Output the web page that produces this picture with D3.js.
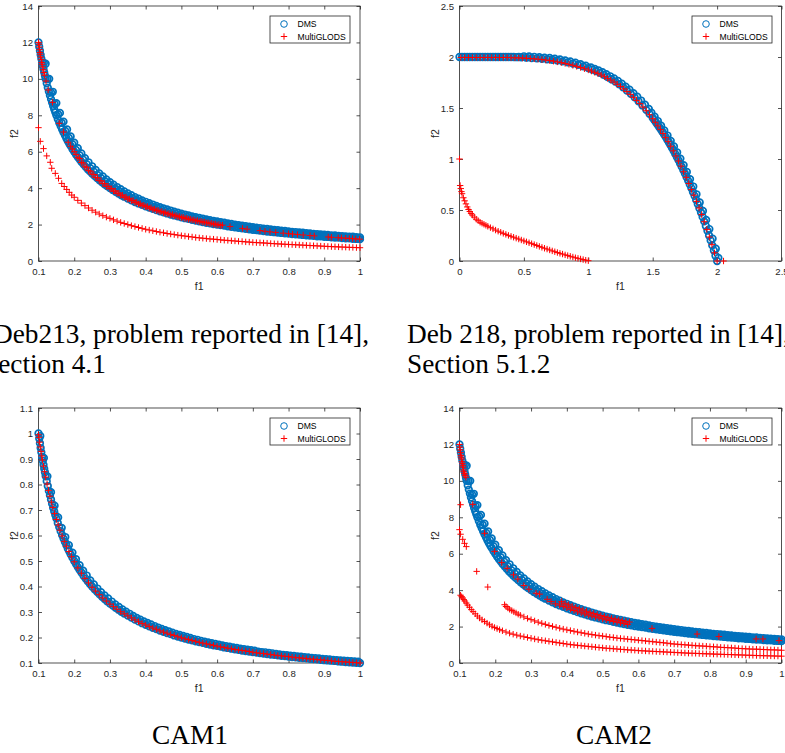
<!DOCTYPE html>
<html><head><meta charset="utf-8">
<script src="https://cdn.jsdelivr.net/npm/d3@7"></script>
<style>body{margin:0;background:#fff;overflow:hidden}svg{display:block}</style>
</head><body>
<svg id="chart" width="785" height="753"></svg>
<script>
// ---------------- DATA ----------------
const seriesNames = ["DMS", "MultiGLODS"];

// Tick values
const hypXTicks = [0.1,0.2,0.3,0.4,0.5,0.6,0.7,0.8,0.9,1];
const deb213YTicks = [0,2,4,6,8,10,12,14];
const deb218Ticks = [0,0.5,1,1.5,2,2.5];
const cam1YTicks = [0.1,0.2,0.3,0.4,0.5,0.6,0.7,0.8,0.9,1,1.1];

// DMS band (Deb213 and CAM2): inner edge, middle and outer edge of the band of circles
const dmsBandInner = [[0.100,12.0],[0.102,11.76],[0.104,11.54],[0.106,11.32],[0.108,11.11],[0.110,10.91],[0.112,10.71],[0.114,10.53],[0.116,10.35],[0.118,10.17],[0.120,10.0],[0.123,9.76],[0.126,9.52],[0.129,9.30],[0.132,9.09],[0.135,8.89],[0.138,8.70],[0.141,8.51],[0.144,8.33],[0.147,8.16],[0.150,8.0],[0.154,7.79],[0.158,7.59],[0.162,7.41],[0.166,7.23],[0.170,7.06],[0.174,6.90],[0.178,6.74],[0.182,6.59],[0.186,6.45],[0.190,6.32],[0.195,6.15],[0.200,6.0],[0.205,5.85],[0.210,5.71],[0.215,5.58],[0.220,5.45],[0.226,5.31],[0.232,5.17],[0.238,5.04],[0.244,4.92],[0.250,4.8],[0.257,4.67],[0.264,4.55],[0.271,4.43],[0.278,4.32],[0.285,4.21],[0.292,4.11],[0.300,4.0],[0.308,3.90],[0.316,3.80],[0.324,3.70],[0.332,3.61],[0.340,3.53],[0.350,3.43],[0.36,3.33],[0.37,3.24],[0.38,3.16],[0.39,3.08],[0.40,3.0],[0.41,2.93],[0.42,2.86],[0.43,2.79],[0.44,2.73],[0.45,2.67],[0.46,2.61],[0.47,2.55],[0.48,2.5],[0.49,2.45],[0.50,2.4],[0.51,2.35],[0.52,2.31],[0.53,2.26],[0.54,2.22],[0.55,2.18],[0.56,2.14],[0.57,2.10],[0.58,2.07],[0.59,2.03],[0.60,2.0],[0.61,1.97],[0.62,1.94],[0.63,1.90],[0.64,1.875],[0.65,1.85],[0.66,1.82],[0.67,1.79],[0.68,1.77],[0.69,1.74],[0.70,1.71],[0.71,1.69],[0.72,1.67],[0.73,1.64],[0.74,1.62],[0.75,1.6],[0.76,1.58],[0.77,1.56],[0.78,1.54],[0.79,1.52],[0.80,1.5],[0.81,1.48],[0.82,1.46],[0.83,1.45],[0.84,1.43],[0.85,1.41],[0.86,1.40],[0.87,1.38],[0.88,1.36],[0.89,1.35],[0.90,1.33],[0.91,1.32],[0.92,1.30],[0.93,1.29],[0.94,1.28],[0.95,1.26],[0.96,1.25],[0.97,1.24],[0.98,1.22],[0.99,1.21],[1.00,1.2]];
const dmsBandMiddle = [[0.115,10.87],[0.125,10.0],[0.135,9.26],[0.145,8.62],[0.155,8.06],[0.165,7.58],[0.175,7.14],[0.185,6.76],[0.195,6.41],[0.205,6.10],[0.215,5.81],[0.225,5.56],[0.235,5.32],[0.245,5.10],[0.255,4.90],[0.265,4.72],[0.275,4.55],[0.285,4.39],[0.295,4.24],[0.305,4.10],[0.315,3.97],[0.325,3.85],[0.335,3.73],[0.345,3.62],[0.355,3.52],[0.365,3.42],[0.375,3.33],[0.385,3.25],[0.395,3.16],[0.405,3.09],[0.415,3.01],[0.425,2.94],[0.435,2.87],[0.445,2.81],[0.455,2.75],[0.465,2.69],[0.475,2.63],[0.485,2.58],[0.495,2.53],[0.505,2.48],[0.515,2.43],[0.525,2.38],[0.535,2.34],[0.545,2.29],[0.555,2.25],[0.565,2.21],[0.575,2.17],[0.585,2.14],[0.595,2.10],[0.605,2.07],[0.615,2.03],[0.625,2.0],[0.635,1.97],[0.645,1.94],[0.655,1.91],[0.665,1.88],[0.675,1.85],[0.685,1.82],[0.695,1.80],[0.705,1.77],[0.715,1.75],[0.725,1.72],[0.735,1.70],[0.745,1.68],[0.755,1.66],[0.765,1.63],[0.775,1.61],[0.785,1.59],[0.795,1.57],[0.805,1.55],[0.815,1.53],[0.825,1.52],[0.835,1.50],[0.845,1.48],[0.855,1.46],[0.865,1.45],[0.875,1.43],[0.885,1.41],[0.895,1.40],[0.905,1.38],[0.915,1.37],[0.925,1.35],[0.935,1.34],[0.945,1.32],[0.955,1.31],[0.965,1.30],[0.975,1.28],[0.985,1.27],[0.995,1.26]];
const dmsBandOuter = [[0.12,10.83],[0.13,10.0],[0.14,9.29],[0.15,8.67],[0.16,8.13],[0.17,7.65],[0.18,7.22],[0.19,6.84],[0.20,6.5],[0.21,6.19],[0.22,5.91],[0.23,5.65],[0.24,5.42],[0.25,5.2],[0.26,5.0],[0.27,4.81],[0.28,4.64],[0.29,4.48],[0.30,4.33],[0.31,4.19],[0.32,4.06],[0.33,3.94],[0.34,3.82],[0.35,3.71],[0.36,3.61],[0.37,3.51],[0.38,3.42],[0.39,3.33],[0.40,3.25],[0.41,3.17],[0.42,3.10],[0.43,3.02],[0.44,2.95],[0.45,2.89],[0.46,2.83],[0.47,2.77],[0.48,2.71],[0.49,2.65],[0.50,2.6],[0.51,2.55],[0.52,2.5],[0.53,2.45],[0.54,2.41],[0.55,2.36],[0.56,2.32],[0.57,2.28],[0.58,2.24],[0.59,2.20],[0.60,2.17],[0.61,2.13],[0.62,2.10],[0.63,2.06],[0.64,2.03],[0.65,2.0],[0.66,1.97],[0.67,1.94],[0.68,1.91],[0.69,1.88],[0.70,1.86],[0.71,1.83],[0.72,1.81],[0.73,1.78],[0.74,1.76],[0.75,1.73],[0.76,1.71],[0.77,1.69],[0.78,1.67],[0.79,1.65],[0.80,1.625],[0.81,1.60],[0.82,1.59],[0.83,1.57],[0.84,1.55],[0.85,1.53],[0.86,1.51],[0.87,1.49],[0.88,1.48],[0.89,1.46],[0.90,1.44],[0.91,1.43],[0.92,1.41],[0.93,1.40],[0.94,1.38],[0.95,1.37],[0.96,1.35],[0.97,1.34],[0.98,1.33],[0.99,1.31],[1.00,1.30]];

// Deb213 MultiGLODS
const deb213MGFront = [[0.100,12.0],[0.101,11.9],[0.102,11.75],[0.103,11.6],[0.104,11.45],[0.105,11.35],[0.106,11.2],[0.108,11.05],[0.109,10.9],[0.110,10.8],[0.112,10.65],[0.113,10.5],[0.115,10.35],[0.117,10.2],[0.121,9.88],[0.127,9.39],[0.139,8.71],[0.158,7.56],[0.170,7.08],[0.183,6.52],[0.190,6.3],[0.195,6.15],[0.200,6.0],[0.205,5.85],
[0.21,5.67],[0.215,5.63],[0.22,5.41],[0.225,5.38],[0.23,5.17],[0.235,5.15],[0.24,4.96],[0.245,4.94],[0.25,4.76],[0.255,4.75],[0.26,4.58],[0.265,4.57],[0.27,4.41],[0.275,4.40],[0.28,4.25],[0.285,4.25],[0.29,4.10],[0.295,4.10],[0.30,3.97],[0.305,3.97],[0.31,3.84],[0.315,3.84],[0.32,3.72],[0.325,3.72],[0.33,3.61],[0.335,3.61],[0.34,3.5],[0.345,3.51],[0.35,3.4],[0.355,3.41],[0.36,3.31],[0.365,3.32],[0.37,3.22],[0.375,3.23],[0.38,3.13],[0.385,3.14],[0.39,3.05],[0.395,3.06],[0.40,2.98],[0.405,2.99],[0.41,2.90],[0.415,2.92],[0.42,2.83],[0.425,2.85],[0.43,2.77],[0.435,2.78],[0.44,2.70],[0.445,2.72],[0.45,2.64],[0.455,2.66],[0.46,2.59],[0.465,2.60],[0.47,2.53],[0.475,2.55],[0.48,2.48],[0.485,2.49],[0.49,2.43],[0.495,2.44],[0.50,2.38],[0.505,2.40],[0.51,2.33],[0.515,2.35],[0.52,2.29],[0.525,2.30],[0.53,2.25],[0.535,2.26],[0.54,2.20],[0.545,2.22],[0.55,2.16],[0.555,2.18],[0.56,2.13],[0.565,2.14],[0.57,2.09],[0.575,2.10],[0.58,2.05],[0.585,2.07],[0.59,2.02],[0.595,2.03],[0.60,1.98],[0.605,2.0],[0.61,1.95],[0.615,1.97],
[0.636,1.89],[0.671,1.79],[0.684,1.75],[0.72,1.67],[0.734,1.63],[0.748,1.60],[0.764,1.57],[0.785,1.53],[0.80,1.5],[0.811,1.48],[0.825,1.45],[0.841,1.43],[0.86,1.40],[0.872,1.38],[0.911,1.32],[0.92,1.30],[0.939,1.28],[0.948,1.27],[0.96,1.25],[0.97,1.24],[0.979,1.23],[0.988,1.21],[0.999,1.2]];
const deb213MGLower = [[0.100,7.32],[0.105,6.57],[0.114,6.17],[0.123,5.77],[0.133,5.42],[0.137,5.09],[0.147,4.81],[0.156,4.54],[0.165,4.26],[0.172,4.09],[0.179,3.93],[0.186,3.77],[0.193,3.62],[0.20,3.50],[0.21,3.33],[0.22,3.18],[0.23,3.04],[0.24,2.91],[0.25,2.79],[0.26,2.68],[0.27,2.58],[0.28,2.49],[0.29,2.41],[0.30,2.34],[0.31,2.26],[0.32,2.19],[0.33,2.12],[0.34,2.06],[0.35,2.00],[0.36,1.94],[0.37,1.89],[0.38,1.84],[0.39,1.79],[0.40,1.74],[0.41,1.70],[0.42,1.66],[0.43,1.62],[0.44,1.58],[0.45,1.55],[0.46,1.51],[0.47,1.48],[0.48,1.45],[0.49,1.42],[0.50,1.39],[0.51,1.37],[0.52,1.34],[0.53,1.32],[0.54,1.29],[0.55,1.27],[0.56,1.25],[0.57,1.23],[0.58,1.21],[0.59,1.20],[0.60,1.18],[0.61,1.16],[0.62,1.14],[0.63,1.13],[0.64,1.11],[0.65,1.10],[0.66,1.08],[0.67,1.07],[0.68,1.05],[0.69,1.04],[0.70,1.02],[0.71,1.01],[0.72,1.00],[0.73,0.99],[0.74,0.98],[0.75,0.96],[0.76,0.95],[0.77,0.94],[0.78,0.93],[0.79,0.92],[0.80,0.91],[0.81,0.90],[0.82,0.89],[0.83,0.88],[0.84,0.87],[0.85,0.86],[0.86,0.85],[0.87,0.84],[0.88,0.83],[0.89,0.82],[0.90,0.81],[0.91,0.80],[0.92,0.79],[0.93,0.78],[0.94,0.775],[0.95,0.765],[0.96,0.76],[0.97,0.75],[0.98,0.745],[0.99,0.735],[1.00,0.73]];

// Deb 218
const deb218DMS = [[0.00,2.0],[0.04,2.0],[0.08,2.0],[0.12,2.0],[0.16,2.0],[0.20,2.0],[0.24,2.0],[0.28,2.0],[0.32,2.0],[0.36,2.0],[0.40,2.0],[0.44,1.998],[0.48,1.996],[0.52,1.993],[0.56,1.990],[0.60,1.987],[0.64,1.983],[0.68,1.978],[0.72,1.973],[0.76,1.966],[0.80,1.957],[0.84,1.948],[0.88,1.936],[0.92,1.923],[0.96,1.908],[1.00,1.891],[1.03,1.877],[1.06,1.861],[1.09,1.844],[1.12,1.825],[1.15,1.804],[1.18,1.782],[1.21,1.758],[1.24,1.731],[1.27,1.703],[1.30,1.672],[1.33,1.640],[1.36,1.604],[1.39,1.566],[1.42,1.525],[1.45,1.482],[1.475,1.443],[1.50,1.403],[1.5125,1.382],[1.525,1.360],[1.5375,1.337],[1.55,1.314],[1.5625,1.291],[1.575,1.267],[1.5875,1.242],[1.60,1.217],[1.6125,1.191],[1.625,1.164],[1.6375,1.137],[1.65,1.109],[1.6625,1.080],[1.675,1.050],[1.6875,1.020],[1.70,0.989],[1.7125,0.957],[1.725,0.925],[1.7375,0.892],[1.75,0.859],[1.7625,0.824],[1.775,0.788],[1.7875,0.752],[1.80,0.715],[1.8125,0.677],[1.825,0.639],[1.8375,0.599],[1.85,0.558],[1.8625,0.517],[1.875,0.475],[1.8875,0.432],[1.90,0.388],[1.9125,0.343],[1.925,0.297],[1.9375,0.250],[1.95,0.202],[1.9625,0.153],[1.975,0.103],[1.9875,0.052],[2.00,0.0]];
const deb218DMSOuter = [[0.02,2.0],[0.06,2.0],[0.10,2.0],[0.14,2.0],[0.18,2.0],[0.22,2.0],[0.26,2.0],[0.30,2.0],[0.34,2.0],[0.38,2.0],[0.42,2.0],[0.46,2.0],[0.50,2.007],[0.54,2.005],[0.58,2.002],[0.62,1.998],[0.66,1.994],[0.70,1.99],[0.74,1.984],[0.78,1.976],[0.82,1.967],[0.86,1.957],[0.90,1.945],[0.94,1.93],[0.98,1.915],[1.02,1.898],[1.05,1.884],[1.08,1.868],[1.11,1.851],[1.14,1.832],[1.17,1.811],[1.20,1.789],[1.23,1.765],[1.26,1.738],[1.29,1.710],[1.32,1.679],[1.35,1.646],[1.38,1.611],[1.41,1.573],[1.44,1.532],[1.47,1.49],[1.49,1.455],[1.515,1.415],[1.54,1.372],[1.565,1.327],[1.59,1.28],[1.615,1.23],[1.64,1.178],[1.665,1.123],[1.69,1.065],[1.715,1.004],[1.74,0.94],[1.765,0.873],[1.79,0.803],[1.815,0.73],[1.84,0.654],[1.865,0.574],[1.89,0.49],[1.915,0.403],[1.94,0.313],[1.965,0.219],[1.99,0.12],[2.01,0.03]];
const deb218MGFront = [[0.01,1.995],[0.04,1.995],[0.07,1.995],[0.10,1.995],[0.13,1.995],[0.16,1.995],[0.19,1.995],[0.22,1.995],[0.25,1.995],[0.28,1.995],[0.31,1.995],[0.34,1.995],[0.37,1.995],[0.40,1.993],[0.43,1.992],[0.46,1.991],[0.49,1.99],[0.52,1.988],[0.55,1.985],[0.58,1.982],[0.61,1.979],[0.64,1.975],[0.67,1.97],[0.70,1.965],[0.73,1.959],[0.76,1.952],[0.79,1.945],[0.82,1.937],[0.85,1.928],[0.88,1.918],[0.91,1.908],[0.94,1.897],[0.97,1.885],[1.00,1.873],[1.025,1.862],[1.05,1.85],[1.075,1.837],[1.10,1.823],[1.125,1.807],[1.15,1.79],[1.175,1.773],[1.20,1.754],[1.225,1.733],[1.25,1.711],[1.275,1.687],[1.30,1.661],[1.325,1.634],[1.35,1.605],[1.375,1.575],[1.40,1.543],[1.425,1.509],[1.45,1.473],[1.475,1.434],[1.50,1.395],[1.52,1.36],[1.54,1.325],[1.56,1.288],[1.58,1.25],[1.60,1.21],[1.62,1.17],[1.64,1.125],[1.66,1.08],[1.68,1.03],[1.70,0.98],[1.72,0.93],[1.74,0.875],[1.76,0.82],[1.78,0.76],[1.80,0.70],[1.82,0.645],[1.84,0.585],[1.86,0.52],[1.88,0.455],[1.90,0.385],[1.92,0.31],[1.94,0.235],[1.96,0.16],[1.98,0.08],[2.00,0.0],[2.05,0.0]];
const deb218MGLower = [[0.0,1.0],[0.005,0.74],[0.01,0.71],[0.015,0.68],[0.02,0.66],[0.03,0.62],[0.04,0.59],[0.05,0.56],[0.06,0.53],[0.07,0.505],[0.08,0.485],[0.09,0.465],[0.10,0.45],[0.115,0.43],[0.13,0.41],[0.145,0.395],[0.16,0.38],[0.175,0.37],[0.19,0.36],[0.205,0.35],[0.22,0.34],[0.24,0.327],[0.26,0.315],[0.28,0.303],[0.30,0.292],[0.32,0.282],[0.34,0.271],[0.36,0.261],[0.38,0.251],[0.40,0.242],[0.42,0.233],[0.44,0.224],[0.46,0.215],[0.48,0.206],[0.50,0.197],[0.52,0.188],[0.54,0.179],[0.56,0.170],[0.58,0.161],[0.60,0.152],[0.62,0.143],[0.64,0.134],[0.66,0.125],[0.68,0.117],[0.70,0.108],[0.72,0.099],[0.74,0.091],[0.76,0.083],[0.78,0.075],[0.80,0.068],[0.82,0.060],[0.84,0.053],[0.86,0.046],[0.88,0.039],[0.90,0.032],[0.92,0.026],[0.94,0.02],[0.96,0.014],[0.98,0.008],[1.0,0.003]];

// CAM1
const cam1DMS = [[0.100,1.0],[0.102,0.980],[0.104,0.962],[0.106,0.943],[0.108,0.926],[0.110,0.909],[0.112,0.893],[0.114,0.877],[0.116,0.862],[0.118,0.848],[0.120,0.833],[0.123,0.813],[0.126,0.794],[0.129,0.775],[0.132,0.758],[0.135,0.741],[0.138,0.725],[0.141,0.709],[0.144,0.694],[0.147,0.680],[0.150,0.667],[0.154,0.649],[0.158,0.633],[0.162,0.617],[0.166,0.602],[0.170,0.588],[0.174,0.575],[0.178,0.562],[0.182,0.549],[0.186,0.538],[0.190,0.526],[0.195,0.513],[0.200,0.5],[0.205,0.488],[0.210,0.476],[0.215,0.465],[0.220,0.455],[0.226,0.442],[0.232,0.431],[0.238,0.420],[0.244,0.410],[0.250,0.4],[0.257,0.389],[0.264,0.379],[0.271,0.369],[0.278,0.360],[0.285,0.351],[0.292,0.342],[0.300,0.333],[0.308,0.325],[0.316,0.316],[0.324,0.309],[0.332,0.301],[0.340,0.294],[0.350,0.286],[0.36,0.278],[0.37,0.270],[0.38,0.263],[0.39,0.256],[0.40,0.25],[0.41,0.244],[0.42,0.238],[0.43,0.233],[0.44,0.227],[0.45,0.222],[0.46,0.217],[0.47,0.213],[0.48,0.208],[0.49,0.204],[0.50,0.2],[0.51,0.196],[0.52,0.192],[0.53,0.189],[0.54,0.185],[0.55,0.182],[0.56,0.179],[0.57,0.175],[0.58,0.172],[0.59,0.169],[0.60,0.167],[0.61,0.164],[0.62,0.161],[0.63,0.159],[0.64,0.156],[0.65,0.154],[0.66,0.152],[0.67,0.149],[0.68,0.147],[0.69,0.145],[0.70,0.143],[0.71,0.141],[0.72,0.139],[0.73,0.137],[0.74,0.135],[0.75,0.133],[0.76,0.132],[0.77,0.130],[0.78,0.128],[0.79,0.127],[0.80,0.125],[0.81,0.123],[0.82,0.122],[0.83,0.120],[0.84,0.119],[0.85,0.118],[0.86,0.116],[0.87,0.115],[0.88,0.114],[0.89,0.112],[0.90,0.111],[0.91,0.110],[0.92,0.109],[0.93,0.108],[0.94,0.106],[0.95,0.105],[0.96,0.104],[0.97,0.103],[0.98,0.102],[0.99,0.101],[1.00,0.1]];
const cam1DMSOuter = [[0.105,0.990],[0.115,0.904],[0.125,0.832],[0.135,0.770],[0.145,0.717],[0.155,0.671],[0.165,0.630],[0.175,0.594],[0.185,0.562],[0.195,0.533],[0.205,0.507],[0.215,0.484],[0.225,0.462],[0.235,0.443],[0.245,0.424],[0.255,0.408],[0.265,0.392],[0.275,0.378],[0.285,0.365],[0.295,0.353],[0.305,0.341],[0.315,0.330],[0.325,0.32],[0.335,0.310],[0.345,0.301],[0.355,0.293],[0.365,0.285],[0.375,0.277],[0.385,0.270],[0.395,0.263],[0.405,0.257],[0.415,0.251],[0.425,0.245],[0.435,0.239],[0.445,0.234],[0.455,0.229],[0.465,0.224],[0.475,0.219],[0.485,0.214],[0.495,0.210],[0.505,0.206],[0.515,0.202],[0.525,0.198],[0.535,0.194],[0.545,0.191],[0.555,0.187],[0.565,0.184],[0.575,0.181],[0.585,0.178],[0.595,0.175],[0.605,0.172],[0.615,0.169],[0.625,0.166],[0.635,0.164],[0.645,0.161],[0.655,0.159],[0.665,0.156],[0.675,0.154],[0.685,0.152],[0.695,0.150],[0.705,0.148],[0.715,0.145],[0.725,0.143],[0.735,0.142],[0.745,0.140],[0.755,0.138],[0.765,0.136],[0.775,0.134],[0.785,0.132],[0.795,0.131],[0.805,0.129],[0.815,0.128],[0.825,0.126],[0.835,0.125],[0.845,0.123],[0.855,0.122],[0.865,0.120],[0.875,0.119],[0.885,0.118],[0.895,0.116],[0.905,0.115],[0.915,0.114],[0.925,0.112],[0.935,0.111],[0.945,0.110],[0.955,0.109],[0.965,0.108],[0.975,0.107],[0.985,0.106],[0.995,0.105]];
const cam1MG = [[0.100,0.995],[0.101,0.985],[0.103,0.966],[0.105,0.947],[0.107,0.930],[0.109,0.912],[0.111,0.896],[0.114,0.872],[0.117,0.850],[0.120,0.829],[0.124,0.802],[0.128,0.777],[0.132,0.754],[0.136,0.731],[0.140,0.710],[0.145,0.686],[0.150,0.663],[0.155,0.641],[0.160,0.621],[0.166,0.598],[0.172,0.577],[0.178,0.558],[0.185,0.537],[0.192,0.517],[0.20,0.497],[0.21,0.473],[0.22,0.452],[0.23,0.432],[0.24,0.414],[0.25,0.397],[0.26,0.382],[0.27,0.368],[0.28,0.355],[0.29,0.343],[0.30,0.331],[0.31,0.321],[0.32,0.311],[0.33,0.301],[0.34,0.293],[0.35,0.285],[0.36,0.277],[0.37,0.269],[0.38,0.262],[0.39,0.255],[0.40,0.249],[0.41,0.243],[0.42,0.237],[0.43,0.232],[0.44,0.226],[0.45,0.221],[0.46,0.217],[0.47,0.212],[0.48,0.208],[0.49,0.203],[0.50,0.199],[0.51,0.195],[0.52,0.192],[0.53,0.188],[0.54,0.185],[0.55,0.181],[0.56,0.178],[0.57,0.175],[0.58,0.172],[0.59,0.169],[0.60,0.166],[0.61,0.163],[0.62,0.161],[0.63,0.158],[0.64,0.156],[0.65,0.153],[0.66,0.151],[0.67,0.149],[0.68,0.147],[0.69,0.145],[0.70,0.142],[0.71,0.140],[0.72,0.138],[0.73,0.137],[0.74,0.135],[0.75,0.133],[0.76,0.131],[0.77,0.129],[0.78,0.128],[0.79,0.126],[0.80,0.125],[0.81,0.123],[0.82,0.121],[0.83,0.120],[0.84,0.119],[0.85,0.117],[0.86,0.116],[0.87,0.115],[0.88,0.113],[0.89,0.112],[0.90,0.111],[0.91,0.110],[0.92,0.108],[0.93,0.107],[0.94,0.106],[0.95,0.105],[0.96,0.104],[0.97,0.103],[0.98,0.102],[0.99,0.101],[1.00,0.1]];

// CAM2 MultiGLODS
const cam2MGFront = [[0.100,12.0],[0.101,11.85],[0.102,11.7],[0.103,11.55],[0.104,11.4],[0.105,11.3],[0.106,11.2],[0.107,11.05],[0.108,10.95],[0.109,10.85],[0.110,10.75],[0.111,10.6],[0.112,10.5],[0.114,10.4],[0.116,10.3],[0.118,10.2],
[0.137,8.71],[0.170,7.12],[0.198,6.13],[0.218,5.51],[0.233,5.2],[0.251,4.84],[0.263,4.61],[0.280,4.25],[0.294,4.05],[0.314,3.83],[0.324,3.78],[0.345,3.5],[0.356,3.37],[0.368,3.25],
[0.38,3.18],[0.385,3.37],[0.39,3.10],[0.395,3.28],[0.40,3.03],[0.405,3.2],[0.41,2.95],[0.415,3.12],[0.42,2.88],[0.425,3.05],[0.43,2.81],[0.435,2.98],[0.44,2.75],[0.445,2.91],[0.45,2.69],[0.455,2.84],[0.46,2.63],[0.465,2.78],[0.47,2.57],[0.475,2.72],[0.48,2.52],[0.485,2.67],[0.49,2.47],[0.495,2.61],[0.50,2.42],[0.505,2.56],[0.51,2.37],[0.515,2.51],[0.52,2.33],[0.525,2.46],[0.53,2.28],[0.535,2.42],[0.54,2.24],[0.545,2.37],[0.55,2.20],[0.555,2.33],[0.56,2.16],[0.565,2.29],[0.57,2.12],[0.575,2.25],
[0.638,1.90],[0.764,1.59],[0.825,1.45],[0.929,1.32],[0.948,1.32],[0.993,1.23]];
const cam2MGScatter = [[0.103,8.69],[0.100,7.32],[0.103,7.07],[0.109,6.79],[0.114,6.57],[0.119,6.39],[0.148,5.03],[0.179,4.17]];
const cam2MGMiddle = [[0.226,3.20],[0.230,3.10],[0.235,3.02],[0.240,2.95],[0.246,2.88],[0.252,2.81],[0.258,2.75],[0.264,2.68],[0.27,2.62],[0.28,2.53],[0.29,2.45],[0.30,2.38],[0.31,2.31],[0.32,2.24],[0.33,2.18],[0.34,2.12],[0.35,2.06],[0.36,2.01],[0.37,1.96],[0.38,1.91],[0.39,1.86],[0.40,1.82],[0.41,1.78],[0.42,1.74],[0.43,1.70],[0.44,1.66],[0.45,1.63],[0.46,1.59],[0.47,1.56],[0.48,1.53],[0.49,1.50],[0.50,1.48],[0.51,1.45],[0.52,1.42],[0.53,1.40],[0.54,1.37],[0.55,1.35],[0.56,1.33],[0.57,1.31],[0.58,1.29],[0.59,1.27],[0.60,1.25],[0.61,1.23],[0.62,1.21],[0.63,1.19],[0.64,1.17],[0.65,1.15],[0.66,1.13],[0.67,1.11],[0.68,1.09],[0.69,1.06],[0.70,1.04],[0.71,1.03],[0.72,1.01],[0.73,1.00],[0.74,0.98],[0.75,0.97],[0.76,0.95],[0.77,0.94],[0.78,0.93],[0.79,0.92],[0.80,0.90],[0.81,0.89],[0.82,0.88],[0.83,0.86],[0.84,0.85],[0.85,0.84],[0.86,0.83],[0.87,0.82],[0.88,0.80],[0.89,0.79],[0.90,0.78],[0.91,0.77],[0.92,0.76],[0.93,0.76],[0.94,0.75],[0.95,0.74],[0.96,0.73],[0.97,0.72],[0.98,0.72],[0.99,0.71],[1.00,0.70]];
const cam2MGLower = [[0.103,3.72],[0.106,3.64],[0.109,3.57],[0.112,3.48],[0.115,3.40],[0.119,3.29],[0.123,3.18],[0.128,3.06],[0.133,2.93],[0.138,2.82],[0.144,2.70],[0.150,2.58],[0.156,2.47],[0.163,2.37],[0.170,2.28],[0.177,2.19],[0.184,2.10],[0.191,2.02],[0.198,1.95],[0.205,1.89],[0.212,1.83],[0.22,1.77],[0.23,1.70],[0.24,1.64],[0.25,1.58],[0.26,1.53],[0.27,1.48],[0.28,1.44],[0.29,1.40],[0.30,1.36],[0.31,1.32],[0.32,1.28],[0.33,1.25],[0.34,1.22],[0.35,1.19],[0.36,1.16],[0.37,1.13],[0.38,1.10],[0.39,1.07],[0.40,1.04],[0.41,1.01],[0.42,0.99],[0.43,0.97],[0.44,0.95],[0.45,0.93],[0.46,0.91],[0.47,0.89],[0.48,0.87],[0.49,0.85],[0.50,0.83],[0.51,0.81],[0.52,0.80],[0.53,0.78],[0.54,0.77],[0.55,0.75],[0.56,0.74],[0.57,0.72],[0.58,0.71],[0.59,0.70],[0.60,0.68],[0.61,0.67],[0.62,0.66],[0.63,0.65],[0.64,0.64],[0.65,0.63],[0.66,0.62],[0.67,0.61],[0.68,0.60],[0.69,0.59],[0.70,0.58],[0.71,0.57],[0.72,0.56],[0.73,0.55],[0.74,0.54],[0.75,0.535],[0.76,0.53],[0.77,0.52],[0.78,0.51],[0.79,0.505],[0.80,0.50],[0.81,0.49],[0.82,0.485],[0.83,0.48],[0.84,0.47],[0.85,0.465],[0.86,0.46],[0.87,0.45],[0.88,0.445],[0.89,0.44],[0.90,0.43],[0.91,0.425],[0.92,0.42],[0.93,0.41],[0.94,0.405],[0.95,0.40],[0.96,0.395],[0.97,0.39],[0.98,0.385],[0.99,0.38],[1.00,0.375]];

// Captions
const captions = [
  {lines:["Deb213, problem reported in [14],", "Section 4.1"], x:[-7,-17], y:[343,373]},
  {lines:["Deb 218, problem reported in [14],", "Section 5.1.2"], x:[407,407], y:[343,373]},
  {lines:["CAM1"], x:[190], y:[744], center:true},
  {lines:["CAM2"], x:[614], y:[744], center:true}
];

// ---------------- LAYOUT ----------------
const AX = "#262626", BLUE = "#0072BD", RED = "#FF0000";
const svg = d3.select("#chart");

const panels = [
  {xd:[0.1,1], yd:[0,14], xr:[38.5,360], yr:[261,6], xt:hypXTicks, yt:deb213YTicks,
   dms:[dmsBandInner, dmsBandMiddle, dmsBandOuter], mg:[deb213MGFront, deb213MGLower], leg:[270,16,80,27]},
  {xd:[0,2.5], yd:[0,2.5], xr:[459.5,781.5], yr:[261,6], xt:deb218Ticks, yt:deb218Ticks,
   dms:[deb218DMS, deb218DMSOuter], mg:[deb218MGFront, deb218MGLower], leg:[692,16,80,27]},
  {xd:[0.1,1], yd:[0.1,1.1], xr:[38.5,360], yr:[663,408], xt:hypXTicks, yt:cam1YTicks,
   dms:[cam1DMS, cam1DMSOuter], mg:[cam1MG], leg:[270,418,80,27]},
  {xd:[0.1,1], yd:[0,14], xr:[459.5,781.5], yr:[663,408], xt:hypXTicks, yt:deb213YTicks,
   dms:[dmsBandInner, dmsBandMiddle, dmsBandOuter], mg:[cam2MGFront, cam2MGScatter, cam2MGMiddle, cam2MGLower], leg:[692,418,80,27]}
];

const plusPath = "M-3.2,0H3.2M0,-3.2V3.2";

function styleAxis(g){
  g.select(".domain").remove();
  g.selectAll(".tick line").attr("stroke", AX).attr("stroke-width", 0.8);
  g.selectAll(".tick text").attr("fill", AX).attr("font-family", "Liberation Sans, Arial, sans-serif").attr("font-size", 9.6);
}

panels.forEach(p => {
  const g = svg.append("g");
  const x = d3.scaleLinear().domain(p.xd).range(p.xr);
  const y = d3.scaleLinear().domain(p.yd).range(p.yr);
  const fmt = d => String(d);
  const tk = -3.5;
  g.append("g").attr("transform", `translate(0,${p.yr[0]})`)
    .call(d3.axisBottom(x).tickValues(p.xt).tickFormat(fmt).tickSizeInner(tk).tickSizeOuter(0).tickPadding(7)).call(styleAxis);
  g.append("g").attr("transform", `translate(0,${p.yr[1]})`)
    .call(d3.axisTop(x).tickValues(p.xt).tickFormat("").tickSizeInner(tk).tickSizeOuter(0)).call(styleAxis);
  g.append("g").attr("transform", `translate(${p.xr[0]},0)`)
    .call(d3.axisLeft(y).tickValues(p.yt).tickFormat(fmt).tickSizeInner(tk).tickSizeOuter(0).tickPadding(5.5)).call(styleAxis);
  g.append("g").attr("transform", `translate(${p.xr[1]},0)`)
    .call(d3.axisRight(y).tickValues(p.yt).tickFormat("").tickSizeInner(tk).tickSizeOuter(0)).call(styleAxis);
  g.append("rect").attr("x", p.xr[0]).attr("y", p.yr[1])
    .attr("width", p.xr[1]-p.xr[0]).attr("height", p.yr[0]-p.yr[1])
    .attr("fill", "none").attr("stroke", AX).attr("stroke-width", 0.8);

  // axis labels
  g.append("text").attr("x", (p.xr[0]+p.xr[1])/2).attr("y", p.yr[0]+29)
    .attr("text-anchor", "middle").attr("font-family", "Liberation Sans, Arial, sans-serif")
    .attr("font-size", 10.5).attr("fill", AX).text("f1");
  g.append("text").attr("transform", `translate(${p.xr[0]-21},${(p.yr[0]+p.yr[1])/2}) rotate(-90)`)
    .attr("text-anchor", "middle").attr("font-family", "Liberation Sans, Arial, sans-serif")
    .attr("font-size", 10.5).attr("fill", AX).text("f2");

  // DMS circles
  p.dms.forEach(arr => {
    g.append("g").selectAll("circle").data(arr).join("circle")
      .attr("cx", d => x(d[0])).attr("cy", d => y(d[1])).attr("r", 3.3)
      .attr("fill", "none").attr("stroke", BLUE).attr("stroke-width", 1.7);
  });
  // MultiGLODS pluses
  p.mg.forEach(arr => {
    g.append("g").selectAll("path").data(arr).join("path")
      .attr("transform", d => `translate(${x(d[0])},${y(d[1])})`)
      .attr("d", plusPath).attr("stroke", RED).attr("stroke-width", 1).attr("fill", "none");
  });

  // legend
  const [lx, ly, lw, lh] = p.leg;
  const lg = g.append("g");
  lg.append("rect").attr("x", lx).attr("y", ly).attr("width", lw).attr("height", lh)
    .attr("fill", "#fff").attr("stroke", AX).attr("stroke-width", 0.8);
  lg.append("circle").attr("cx", lx+14).attr("cy", ly+8).attr("r", 3.3)
    .attr("fill", "none").attr("stroke", BLUE).attr("stroke-width", 1);
  lg.append("path").attr("transform", `translate(${lx+14},${ly+20.5})`).attr("d", plusPath)
    .attr("stroke", RED).attr("stroke-width", 1);
  seriesNames.forEach((s, i) => {
    lg.append("text").attr("x", lx+27.5).attr("y", ly + 8 + i*12.5).attr("dy", "0.35em")
      .attr("font-family", "Liberation Sans, Arial, sans-serif").attr("font-size", 8.6)
      .attr("fill", "#000").text(s);
  });
});

// captions
captions.forEach(c => {
  c.lines.forEach((t, i) => {
    svg.append("text").attr("x", c.x[i]).attr("y", c.y[i])
      .attr("text-anchor", c.center ? "middle" : "start")
      .attr("font-family", "Liberation Serif, Times New Roman, serif")
      .attr("font-size", 27.3).attr("fill", "#000").text(t);
  });
});
</script>
</body></html>
